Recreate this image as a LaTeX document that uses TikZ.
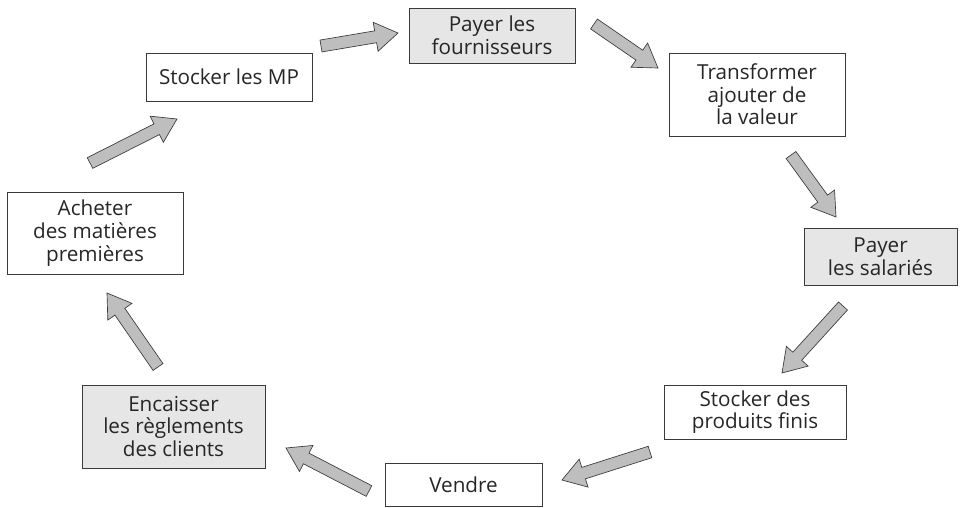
\documentclass[tikz,border=0pt]{standalone}
\usepackage{fontspec}
\setmainfont{Open Sans}
\usetikzlibrary{calc}
\definecolor{boxgrey}{HTML}{E6E6E6}
\definecolor{arrgrey}{HTML}{BEBEBE}
\definecolor{edgecol}{HTML}{3A3A3A}
\tikzset{
  stepbox/.style={draw=edgecol, line width=0.75pt, align=center, inner sep=0pt,
    font=\fontsize{15.5pt}{17pt}\selectfont, text=black!85},
  greybox/.style={stepbox, fill=boxgrey},
  arrowshape/.style={draw=edgecol, fill=arrgrey, line width=0.5pt, line join=miter},
}
\newcommand\fatarrow[2]{%
  \path[arrowshape] let \p1=($(#2)-(#1)$), \n1={atan2(\y1,\x1)}, \n2={veclen(\x1,\y1)-17} in
   ($(#1)+(\n1+90:4.5pt)$) -- ($(#1)+(\n1:\n2)+(\n1+90:4.5pt)$)
   -- ($(#1)+(\n1:\n2)+(\n1+90:11pt)$) -- (#2)
   -- ($(#1)+(\n1:\n2)+(\n1-90:11pt)$) -- ($(#1)+(\n1:\n2)+(\n1-90:4.5pt)$)
   -- ($(#1)+(\n1-90:4.5pt)$) -- cycle;}
\begin{document}
\begin{tikzpicture}[x=0.75pt,y=-0.75pt]
\useasboundingbox (0,0) rectangle (960,507);
% boxes
\node[stepbox, minimum width=124.5pt, minimum height=36pt] (mp) at (229,77) {Stocker les MP};
\node[greybox, minimum width=124.5pt, minimum height=41.25pt] (four) at (492,35.5) {Payer les\\fournisseurs};
\node[stepbox, minimum width=132pt, minimum height=62.25pt] (trans) at (757,94.5) {Transformer\\ajouter de\\la valeur};
\node[greybox, minimum width=114.75pt, minimum height=42.75pt] (sal) at (880.5,256.5) {Payer\\les salariés};
\node[stepbox, minimum width=136.5pt, minimum height=40.5pt] (pf) at (755,412) {Stocker des\\produits finis};
\node[stepbox, minimum width=117.75pt, minimum height=32.25pt] (vendre) at (463.5,484.5) {Vendre};
\node[greybox, minimum width=137.25pt, minimum height=62.25pt] (enc) at (173.5,426.5) {Encaisser\\les règlements\\des clients};
\node[stepbox, minimum width=132pt, minimum height=61.5pt] (achat) at (95,233) {Acheter\\des matières\\premières};
% arrow ends
\coordinate (a1t) at (90,163);  \coordinate (a1h) at (177,119);
\coordinate (a2t) at (321,46);  \coordinate (a2h) at (398,33);
\coordinate (a3t) at (594,24);  \coordinate (a3h) at (658,68);
\coordinate (a4t) at (791,155); \coordinate (a4h) at (836,217);
\coordinate (a5t) at (843,306); \coordinate (a5h) at (782,373);
\coordinate (a6t) at (650,452); \coordinate (a6h) at (562,480);
\coordinate (a7t) at (369,491); \coordinate (a7h) at (286,448);
\coordinate (a8t) at (158,367); \coordinate (a8h) at (107,293);
\fatarrow{a1t}{a1h}
\fatarrow{a2t}{a2h}
\fatarrow{a3t}{a3h}
\fatarrow{a4t}{a4h}
\fatarrow{a5t}{a5h}
\fatarrow{a6t}{a6h}
\fatarrow{a7t}{a7h}
\fatarrow{a8t}{a8h}
\end{tikzpicture}
\end{document}
